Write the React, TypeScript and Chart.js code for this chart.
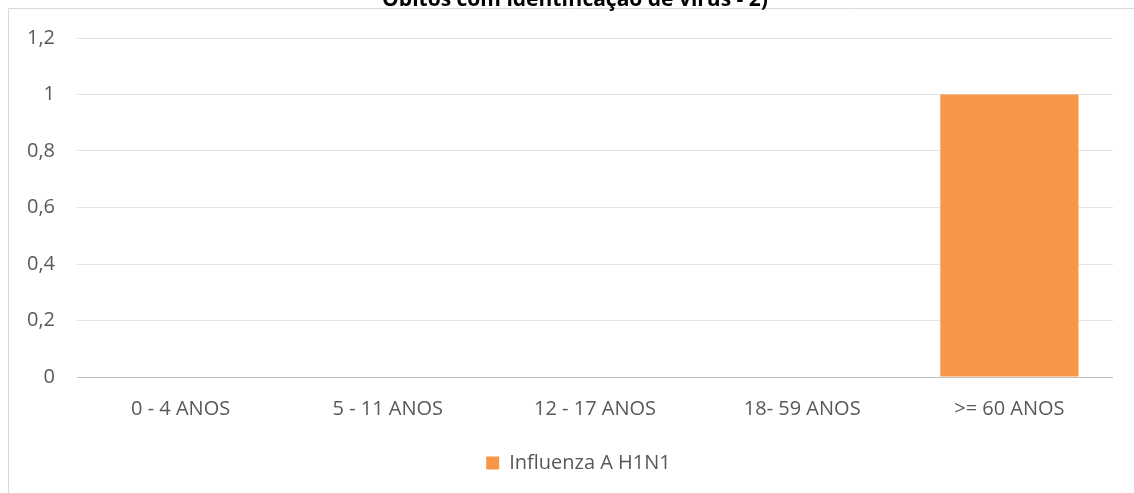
import React, { useEffect, useRef } from "react";
import { Chart, registerables } from "chart.js";

Chart.register(...registerables);

const TITLE = "Óbitos com identificação de vírus - 2)";
const categories = ["0 - 4 ANOS", "5 - 11 ANOS", "12 - 17 ANOS", "18- 59 ANOS", ">= 60 ANOS"];
const seriesName = "Influenza A H1N1";
const seriesValues = [0, 0, 0, 0, 1];
const yTicks = [0, 0.2, 0.4, 0.6, 0.8, 1, 1.2];

const FONT = "'Open Sans', 'Noto Sans', sans-serif";
const TEXT = "#595959";

const frameAndTitle = {
  id: "frameAndTitle",
  beforeDraw(chart: any) {
    const ctx = chart.ctx;
    ctx.save();
    ctx.fillStyle = "#ffffff";
    ctx.fillRect(0, 0, chart.width, chart.height);
    ctx.strokeStyle = "#d9d9d9";
    ctx.lineWidth = 1;
    ctx.beginPath();
    ctx.moveTo(8.5, chart.height);
    ctx.lineTo(8.5, 8.5);
    ctx.lineTo(chart.width, 8.5);
    ctx.stroke();
    ctx.fillStyle = "#000000";
    ctx.font = `bold 21px ${FONT}`;
    ctx.textAlign = "center";
    ctx.textBaseline = "alphabetic";
    ctx.fillText(TITLE, 575, 6);
    ctx.restore();
  },
  afterLayout(chart: any) {
    // centre the legend under the plot frame rather than the whole canvas
    if (chart.legend) {
      chart.legend.left = 44;
    }
  },
};

export default function App() {
  const ref = useRef<HTMLCanvasElement | null>(null);
  useEffect(() => {
    if (!ref.current) return;
    const chart = new Chart(ref.current, {
      type: "bar",
      data: {
        labels: categories,
        datasets: [
          {
            label: seriesName,
            data: seriesValues,
            backgroundColor: "#F79646",
            borderWidth: 0,
            categoryPercentage: 1,
            barPercentage: 0.667,
          },
        ],
      },
      options: {
        responsive: false,
        animation: false,
        layout: { padding: { top: 38, right: 21, left: 0, bottom: 10 } },
        plugins: {
          title: { display: false },
          tooltip: { enabled: false },
          legend: {
            display: true,
            position: "bottom",
            labels: {
              boxWidth: 13,
              boxHeight: 13,
              padding: 10,
              color: TEXT,
              font: { family: FONT, size: 20 },
            },
          },
        },
        scales: {
          x: {
            grid: { display: false, drawTicks: false },
            border: { display: false },
            ticks: {
              color: TEXT,
              padding: 20,
              font: { family: FONT, size: 20 },
              maxRotation: 0,
            },
            afterFit(scale: any) {
              scale.height = 66;
            },
          },
          y: {
            min: 0,
            max: 1.2,
            afterBuildTicks(scale: any) {
              scale.ticks = yTicks.map((v) => ({ value: v }));
            },
            grid: {
              drawTicks: false,
              color: (c: any) => (c.tick && c.tick.value === 0 ? "#bfbfbf" : "#e3e3e3"),
              lineWidth: 1,
            },
            border: { display: false },
            ticks: {
              color: TEXT,
              padding: 22,
              font: { family: FONT, size: 20 },
              callback: (v: any) => String(Math.round(Number(v) * 10) / 10).replace(".", ","),
            },
            afterFit(scale: any) {
              scale.width = 77;
            },
          },
        },
      },
      plugins: [frameAndTitle],
    });
    return () => chart.destroy();
  }, []);
  return (
    <div style={{ position: "absolute", left: 0, top: 0, width: 1134, height: 493, overflow: "hidden" }}>
      <canvas ref={ref} width={1134} height={493} style={{ display: "block", width: 1134, height: 493 }} />
    </div>
  );
}
